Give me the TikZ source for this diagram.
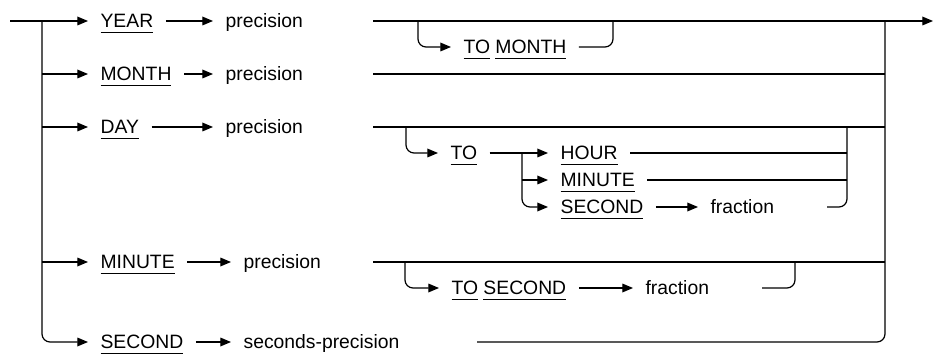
\documentclass[tikz,border=0pt]{standalone}
\usepackage{fontspec}
\setmainfont{Liberation Sans}
\usetikzlibrary{arrows.meta}

\newcommand\ulkw[1]{\setbox0\hbox{#1}\rlap{\rule[-3.6pt]{\wd0}{0.6pt}}\box0\relax}

\begin{document}
\begin{tikzpicture}[
    x=0.75pt, y=-0.75pt,
    line width=0.9pt,
    every node/.style={anchor=west, inner xsep=9pt, inner ysep=0pt,
        text height=10.3pt, text depth=0pt,
        font=\fontsize{14.5}{17}\selectfont},
    arr/.style={-{Triangle[length=8pt,width=6.5pt]}},
    rr/.style={rounded corners=6pt}
]
    \useasboundingbox (0,0) rectangle (935,356);

    \coordinate (in) at (10,21);
    \coordinate (lbar) at (42,21);
    \coordinate (rbar) at (885,21);
    \coordinate (out) at (933,21);

    \node (year)   at (88,21)  {\ulkw{YEAR}};
    \node (month)  at (88,74)  {\ulkw{MONTH}};
    \node (day)    at (88,127) {\ulkw{DAY}};
    \node (minute) at (88,262) {\ulkw{MINUTE}};
    \node (second) at (88,342) {\ulkw{SECOND}};

    \node (yearp)   at (213,21)  {precision};
    \node (monthp)  at (213,74)  {precision};
    \node (dayp)    at (213,127) {precision};
    \node (minutep) at (231,262) {precision};
    \node (secondp) at (231,342) {seconds-precision};

    \coordinate (yearl)   at (373,21);
    \coordinate (monthl)  at (373,74);
    \coordinate (dayl)    at (373,127);
    \coordinate (minutel) at (373,262);
    \coordinate (secondl) at (477,342);

    % left and right bars
    \draw (in) -- (lbar);
    \draw[arr,rr] (lbar) -- (lbar |- second) -- (second);
    \foreach \n in {year,month,day,minute}
        \draw[arr] (lbar |- \n) -- (\n);
    \foreach \n in {year,month,day,minute,second}
        \draw[arr] (\n) -- (\n p);
    \draw (yearl) -- (rbar);
    \draw[arr] (rbar) -- (out);
    \draw[rr] (rbar) -- (rbar |- secondl) -- (secondl);
    \foreach \n in {monthl,dayl,minutel}
        \draw (\n) -- (rbar |- \n);

    % YEAR TO MONTH
    \coordinate (tm1) at (418,21);
    \coordinate (tm2) at (613,21);
    \node (tomonth) at (451,47) {\ulkw{TO} \ulkw{MONTH}};
    \draw[arr,rr] (tm1) -- (tm1 |- tomonth) -- (tomonth);
    \draw[rr] (tomonth) -- (tm2 |- tomonth) -- (tm2);

    % DAY TO HOUR/MINUTE/SECOND
    \coordinate (dt1) at (406,127);
    \coordinate (split) at (522,153);
    \coordinate (join) at (847,127);
    \coordinate (dfracl) at (827,207);
    \node (dto)   at (438,153) {\ulkw{TO}};
    \node (hour)  at (548,153) {\ulkw{HOUR}};
    \node (dmin)  at (548,180) {\ulkw{MINUTE}};
    \node (dsec)  at (548,207) {\ulkw{SECOND}};
    \node (dfrac) at (698,207) {fraction};
    \draw[arr,rr] (dt1) -- (dt1 |- dto) -- (dto);
    \draw[arr] (dto) -- (hour);
    \draw[arr] (split |- dmin) -- (dmin);
    \draw[arr,rr] (split) -- (split |- dsec) -- (dsec);
    \draw[arr] (dsec) -- (dfrac);
    \draw (hour) -- (join |- hour);
    \draw (dmin) -- (join |- dmin);
    \draw[rr] (join) -- (join |- dfracl) -- (dfracl);

    % MINUTE TO SECOND
    \coordinate (ts1) at (405,262);
    \coordinate (ts2) at (795,262);
    \coordinate (mfracl) at (762,288);
    \node (tosec) at (439,288) {\ulkw{TO} \ulkw{SECOND}};
    \node (mfrac) at (633,288) {fraction};
    \draw[arr,rr] (ts1) -- (ts1 |- tosec) -- (tosec);
    \draw[arr] (tosec) -- (mfrac);
    \draw[rr] (mfracl) -- (ts2 |- mfracl) -- (ts2);
\end{tikzpicture}
\end{document}
